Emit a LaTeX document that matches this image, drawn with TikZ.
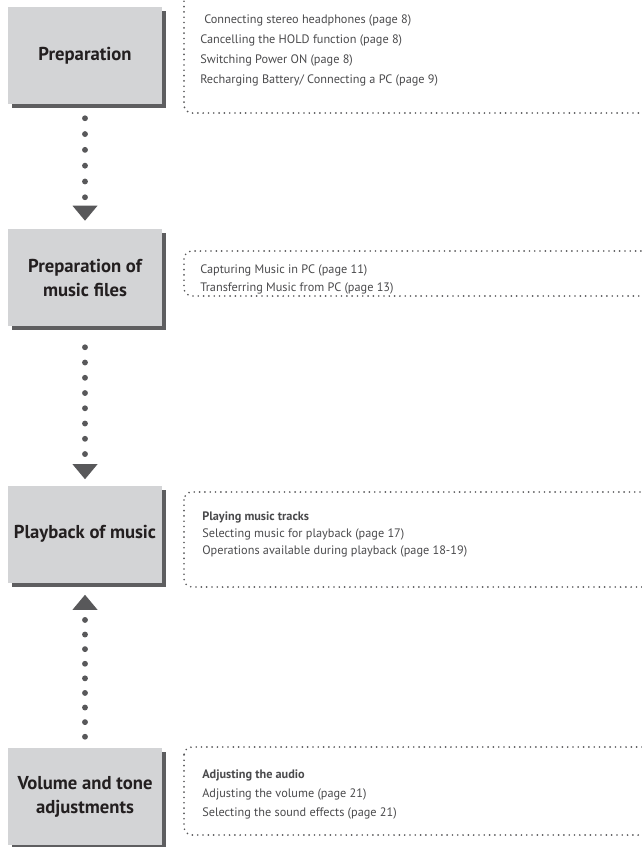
\documentclass[tikz,border=0pt]{standalone}
\usepackage{fontspec}
\setmainfont{PT Sans}
\usepackage{tikz}
\usetikzlibrary{arrows.meta,shadows}

\definecolor{stagegray}{HTML}{D3D4D6}
\definecolor{shadowgray}{HTML}{5E5E60}
\definecolor{dotgray}{HTML}{58585A}
\definecolor{titleblack}{HTML}{231F20}
\definecolor{infogray}{HTML}{4A4A4C}

\tikzset{
  stage/.style={fill=stagegray, text=titleblack, align=center,
    minimum width=115.5pt, minimum height=72.75pt, inner sep=0pt,
    font=\fontsize{14}{18}\selectfont\bfseries,
    general shadow={fill=shadowgray, shadow xshift=3pt, shadow yshift=-3pt}},
  flow/.style={draw=dotgray, line width=4.4pt, line cap=round,
    dash pattern=on 0pt off #1,
    -{Triangle[width=18.75pt,length=11.25pt,line width=0pt]}},
  infoframe/.style={draw=dotgray, line width=1.4pt, line cap=round,
    dash pattern=on 0pt off 3.98pt, rounded corners=6pt},
  info/.style={anchor=west, align=left, text=infogray, inner sep=0pt}
}

\begin{document}
\begin{tikzpicture}[x=0.75pt,y=-0.75pt]
\useasboundingbox (0,0) rectangle (642,847);
\clip (0,0) rectangle (642,847);

% stages
\node[stage] (prep) at (85,55.5) {Preparation};
\node[stage] (prepmusic) at (85,277.5) {Preparation of\\music files};
\node[stage] (play) at (85,534) {Playback of music};
\node[stage] (volume) at (85,796.5) {Volume and tone\\adjustments};

% dotted connectors
\draw[flow=11.85pt, shorten <=10.5pt, shorten >=6pt] (prep.south) -- (prepmusic.north);
\draw[flow=11.44pt, shorten <=15.75pt, shorten >=4.5pt] (prepmusic.south) -- (play.north);
\draw[flow=10.95pt, shorten <=8.25pt, shorten >=9pt] (volume.north) -- (play.south);

% frames on the right
\draw[infoframe] (184,-12) rectangle (650,113);
\draw[infoframe] (184,251) rectangle (650,296);
\draw[infoframe] (184,492) rectangle (650,587);
\draw[infoframe] (184,747) rectangle (650,835);

\node[info, font=\fontsize{9.2}{15}\selectfont] (prepinfo) at (200,50)
  {\hspace{3pt}Connecting stereo headphones (page 8)\\
   Cancelling the HOLD function (page 8)\\
   Switching Power ON (page 8)\\
   Recharging Battery/ Connecting a PC (page 9)};
\node[info, font=\fontsize{9.2}{13.5}\selectfont] (musicinfo) at (200,279)
  {Capturing Music in PC (page 11)\\
   Transferring Music from PC (page 13)};
\node[info, font=\fontsize{9.2}{13}\selectfont] (playinfo) at (202,534.5)
  {\textbf{Playing music tracks}\\
   Selecting music for playback (page 17)\\
   Operations available during playback (page 18-19)};
\node[info, font=\fontsize{9.2}{14.25}\selectfont] (volumeinfo) at (202,794)
  {\textbf{Adjusting the audio}\\
   Adjusting the volume (page 21)\\
   Selecting the sound effects (page 21)};
\end{tikzpicture}
\end{document}
